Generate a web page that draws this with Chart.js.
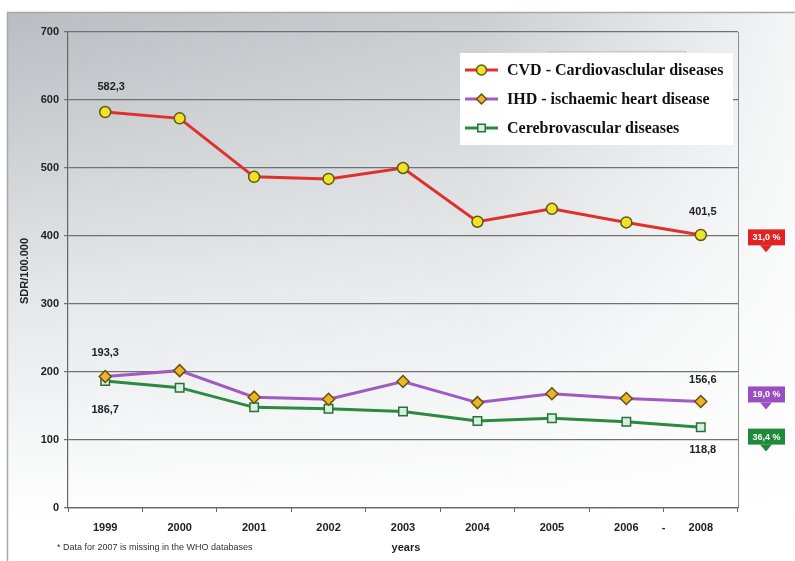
<!DOCTYPE html>
<html>
<head>
<meta charset="utf-8">
<script src="https://cdn.jsdelivr.net/npm/chart.js@4/dist/chart.umd.min.js"></script>
<style>
  html, body { margin: 0; padding: 0; background: #fff; }
  #wrap { width: 795px; height: 561px; position: relative; }
</style>
</head>
<body>
<div id="wrap"><canvas id="myChart" width="795" height="561"></canvas></div>
<script>
const years = ["1999", "2000", "2001", "2002", "2003", "2004", "2005", "2006", "2008"];
const cvd = [582.3, 573, 487, 484, 500, 421, 440, 420, 401.5];
const ihd = [193.3, 202, 163, 160, 186, 155, 168, 161, 156.6];
const cerebro = [186.7, 177, 148, 146, 142, 128, 132, 127, 118.8];
const seriesNames = ["CVD - Cardiovasclular diseases", "IHD - ischaemic heart disease", "Cerebrovascular diseases"];
const declines = ["31,0 %", "19,0 %", "36,4 %"];
const yTicks = [0, 100, 200, 300, 400, 500, 600, 700];

const fmt = v => v.toFixed(1).replace(".", ",");
const sans = "Arial, 'Liberation Sans', sans-serif";

// background frame and gradient
const frame = {
  id: "frame",
  beforeDraw(chart) {
    const ctx = chart.ctx;
    ctx.save();
    let g = ctx.createLinearGradient(0, 12, 0, 520);
    g.addColorStop(0, "#b9bdc1");
    g.addColorStop(0.55, "#e4e6e8");
    g.addColorStop(1, "#ffffff");
    ctx.fillStyle = g;
    ctx.fillRect(7, 12, 788, 549);
    let h = ctx.createLinearGradient(7, 0, 795, 0);
    h.addColorStop(0, "rgba(255,255,255,0)");
    h.addColorStop(0.6, "rgba(255,255,255,0.25)");
    h.addColorStop(1, "rgba(255,255,255,0.85)");
    ctx.fillStyle = h;
    ctx.fillRect(7, 12, 788, 549);
    ctx.strokeStyle = "#a8a8a8";
    ctx.lineWidth = 1.5;
    ctx.beginPath();
    ctx.moveTo(7.5, 561);
    ctx.lineTo(7.5, 12.5);
    ctx.lineTo(795, 12.5);
    ctx.stroke();
    const a = chart.chartArea;
    ctx.strokeStyle = "#8c8c8c";
    ctx.lineWidth = 1;
    ctx.beginPath();
    ctx.moveTo(a.right + 0.5, a.top);
    ctx.lineTo(a.right + 0.5, a.bottom);
    ctx.stroke();
    ctx.restore();
  }
};

function marker(ctx, style, x, y, r, fill, stroke) {
  ctx.fillStyle = fill;
  ctx.strokeStyle = stroke;
  ctx.lineWidth = 1.5;
  ctx.beginPath();
  if (style === "circle") ctx.arc(x, y, r, 0, Math.PI * 2);
  else if (style === "rectRot") { ctx.moveTo(x, y - r); ctx.lineTo(x + r, y); ctx.lineTo(x, y + r); ctx.lineTo(x - r, y); ctx.closePath(); }
  else ctx.rect(x - r * 0.75, y - r * 0.75, r * 1.5, r * 1.5);
  ctx.fill();
  ctx.stroke();
}

const extras = {
  id: "extras",
  afterDraw(chart) {
    const ctx = chart.ctx;
    const xs = chart.scales.x, ys = chart.scales.y;
    ctx.save();
    ctx.font = "bold 11px " + sans;
    ctx.fillStyle = "#222";
    ctx.textAlign = "center";
    ctx.textBaseline = "middle";
    // dash between 2006 and 2008 (missing 2007)
    ctx.fillText("-", xs.getPixelForValue(7.5), 528);

    // value labels
    const m0 = chart.getDatasetMeta(0).data, m1 = chart.getDatasetMeta(1).data, m2 = chart.getDatasetMeta(2).data;
    const last = years.length - 1;
    ctx.fillText(fmt(cvd[0]), m0[0].x + 6, m0[0].y - 25);
    ctx.fillText(fmt(cvd[last]), m0[last].x + 2, m0[last].y - 23);
    ctx.fillText(fmt(ihd[0]), m1[0].x, m1[0].y - 24);
    ctx.fillText(fmt(cerebro[0]), m2[0].x, m2[0].y + 29);
    ctx.fillText(fmt(ihd[last]), m1[last].x + 2, m1[last].y - 22);
    ctx.fillText(fmt(cerebro[last]), m2[last].x + 2, m2[last].y + 23);

    // decline badges
    const badgeColors = ["#e02424", "#9a4fc0", "#1f8a3c"];
    const badgeY = [ys.getPixelForValue(398), ys.getPixelForValue(167), ys.getPixelForValue(105)];
    ctx.font = "bold 9px " + sans;
    declines.forEach((t, i) => {
      const cx = 766, cy = badgeY[i];
      ctx.fillStyle = badgeColors[i];
      ctx.fillRect(cx - 18, cy - 8, 37, 16);
      ctx.beginPath();
      ctx.moveTo(cx - 6, cy + 8);
      ctx.lineTo(cx + 6, cy + 8);
      ctx.lineTo(cx, cy + 15);
      ctx.closePath();
      ctx.fill();
      ctx.fillStyle = "#fff";
      ctx.fillText(t, cx + 0.5, cy + 0.5);
    });

    // footnote and axis title
    ctx.fillStyle = "#333";
    ctx.font = "9px " + sans;
    ctx.textAlign = "left";
    ctx.fillText("* Data for 2007 is missing in the WHO databases", 57, 548);
    ctx.font = "bold 11px " + sans;
    ctx.textAlign = "center";
    ctx.fillStyle = "#222";
    ctx.fillText("years", 406, 548);
    ctx.save();
    ctx.translate(25, 271);
    ctx.rotate(-Math.PI / 2);
    ctx.font = "bold 11px " + sans;
    ctx.fillText("SDR/100.000", 0, 0);
    ctx.restore();

    // legend box
    ctx.strokeStyle = "#c8c8c8";
    ctx.lineWidth = 1;
    ctx.strokeRect(548.5, 51.5, 137, 20);
    ctx.fillStyle = "#fff";
    ctx.fillRect(460, 53, 273, 92);
    ctx.font = "bold 16px 'Liberation Serif', 'Times New Roman', serif";
    ctx.textAlign = "left";
    chart.data.datasets.forEach((ds, i) => {
      const y = 70 + i * 29;
      ctx.strokeStyle = ds.borderColor;
      ctx.lineWidth = 3;
      ctx.beginPath();
      ctx.moveTo(465, y);
      ctx.lineTo(498, y);
      ctx.stroke();
      marker(ctx, ds.pointStyle, 481.5, y, 5, ds.pointBackgroundColor, ds.pointBorderColor);
      ctx.fillStyle = "#111";
      ctx.fillText(seriesNames[i], 507, y + 1);
    });
    ctx.restore();
  }
};

const data = {
  labels: years,
  datasets: [{
    label: seriesNames[0],
    data: cvd,
    borderColor: "#e0302c",
    borderWidth: 3,
    pointStyle: "circle",
    pointRadius: 5.5,
    pointBackgroundColor: "#f2e12a",
    pointBorderColor: "#5c5a14",
    pointBorderWidth: 1.5
  }, {
    label: seriesNames[1],
    data: ihd,
    borderColor: "#a05ac4",
    borderWidth: 3,
    pointStyle: "rectRot",
    pointRadius: 6,
    pointBackgroundColor: "#eab52a",
    pointBorderColor: "#6a5010",
    pointBorderWidth: 1.5
  }, {
    label: seriesNames[2],
    data: cerebro,
    borderColor: "#2a8a40",
    borderWidth: 3,
    pointStyle: "rect",
    pointRadius: 6,
    pointBackgroundColor: "#d4f0de",
    pointBorderColor: "#2a7038",
    pointBorderWidth: 1.5
  }]
};

const config = {
  type: "line",
  data: data,
  options: {
    responsive: false,
    animation: false,
    layout: { padding: { top: 32, right: 57, left: 0, bottom: 0 } },
    scales: {
      x: {
        offset: true,
        grid: { offset: true, drawOnChartArea: false, drawTicks: true, tickLength: 4, color: "#666" },
        border: { color: "#666", width: 1.2 },
        ticks: { color: "#222", font: { size: 11, weight: "bold", family: sans }, padding: 9 },
        afterFit(scale) { scale.height = 53; }
      },
      y: {
        min: 0,
        max: 700,
        afterBuildTicks(scale) { scale.ticks = yTicks.map(v => ({ value: v })); },
        grid: { color: "#707070", lineWidth: 1.2, tickLength: 4 },
        border: { color: "#666", width: 1.2 },
        ticks: { color: "#222", font: { size: 11, weight: "bold", family: sans }, padding: 5 },
        afterFit(scale) { scale.width = 68; }
      }
    },
    plugins: {
      legend: { display: false },
      tooltip: { enabled: false }
    }
  },
  plugins: [frame, extras]
};

new Chart(document.getElementById("myChart"), config);
</script>
</body>
</html>
